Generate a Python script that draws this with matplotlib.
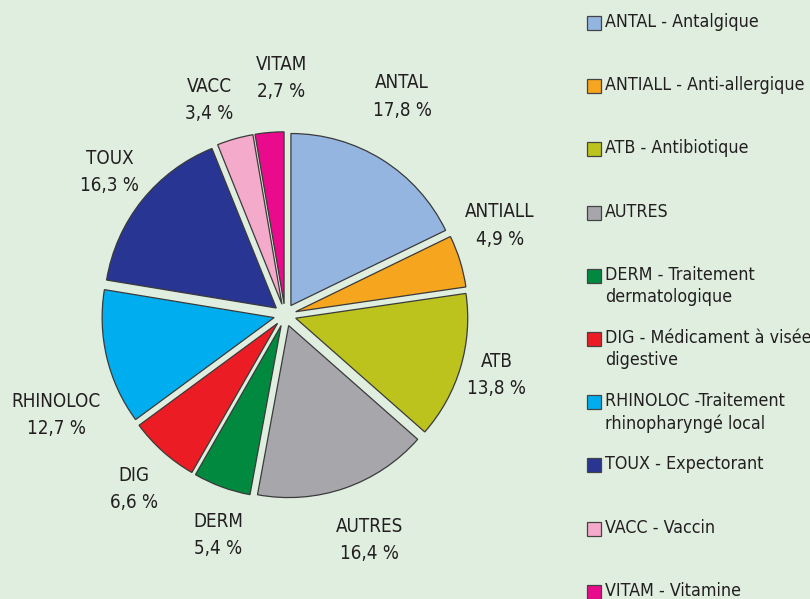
import matplotlib
matplotlib.use("Agg")
from matplotlib import pyplot as plt
from matplotlib.patches import Rectangle

codes = ["ANTAL", "ANTIALL", "ATB", "AUTRES", "DERM", "DIG", "RHINOLOC", "TOUX", "VACC", "VITAM"]
shares = [17.8, 4.9, 13.8, 16.4, 5.4, 6.6, 12.7, 16.3, 3.4, 2.7]
legend_labels = [
    "ANTAL - Antalgique",
    "ANTIALL - Anti-allergique",
    "ATB - Antibiotique",
    "AUTRES",
    "DERM - Traitement\ndermatologique",
    "DIG - Médicament à visée\ndigestive",
    "RHINOLOC -Traitement\nrhinopharyngé local",
    "TOUX - Expectorant",
    "VACC - Vaccin",
    "VITAM - Vitamine",
]
colors = ["#95b5e1", "#f6a51e", "#bcc31c", "#a7a7ab", "#00893f",
          "#ec1c24", "#00aeef", "#283593", "#f4aacb", "#ea0a8c"]

# label centres in pie units (radius = 1)
label_pos = [(0.68, 1.27), (1.25, 0.52), (1.23, -0.35), (0.49, -1.31), (-0.39, -1.28),
             (-0.88, -1.01), (-1.33, -0.58), (-1.02, 0.83), (-0.44, 1.25), (-0.02, 1.38)]

bg = "#dfeedf"
plt.rcParams["font.family"] = ["DejaVu Sans"]
plt.rcParams["font.stretch"] = "condensed"

W, H = 810, 599
fig = plt.figure(figsize=(W / 100, H / 100), dpi=100)
fig.patch.set_facecolor(bg)

# pie axes: centre (285, 315) px, 172 px per unit
cx, cy, scale, half = 285, 315, 172, 1.6
ax = fig.add_axes([(cx - half * scale) / W, (H - cy - half * scale) / H,
                   2 * half * scale / W, 2 * half * scale / H])

ax.pie(shares, colors=colors, startangle=90, counterclock=False,
       explode=[0.065] * len(shares),
       wedgeprops=dict(edgecolor="#3a3a3a", linewidth=0.9))
ax.set_xlim(-half, half)
ax.set_ylim(-half, half)
ax.set_aspect("equal")
ax.axis("off")

for code, v, (x, y) in zip(codes, shares, label_pos):
    txt = "%s\n%s %%" % (code, ("%.1f" % v).replace(".", ","))
    ax.text(x, y, txt, ha="center", va="center", fontsize=13.5,
            color="#231f20", linespacing=1.55)

# legend drawn by hand
for i, (lab, col) in enumerate(zip(legend_labels, colors)):
    ytop = 22 + i * 63.2
    fig.patches.append(Rectangle((587 / W, 1 - (ytop + 8) / H), 14 / W, 14 / H,
                                 transform=fig.transFigure, facecolor=col,
                                 edgecolor="#444444", linewidth=0.9))
    fig.text(605 / W, 1 - (ytop - 9) / H, lab, ha="left", va="top",
             fontsize=12.8, color="#231f20", linespacing=1.3)

fig.savefig("out.png", dpi=100, facecolor=bg)
